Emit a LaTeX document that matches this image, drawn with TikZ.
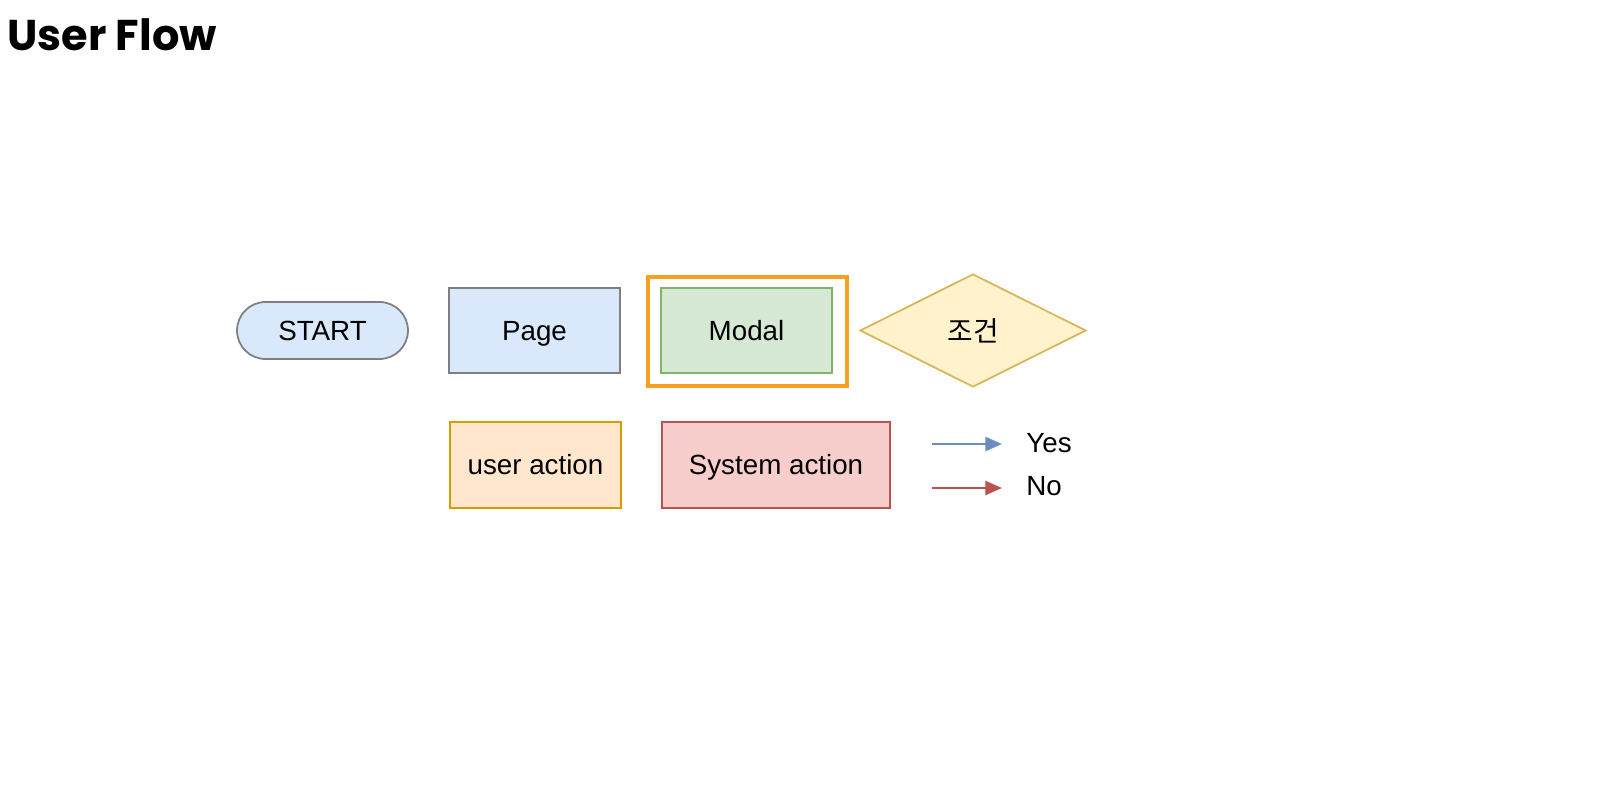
\documentclass[tikz,border=0pt]{standalone}
\usepackage{fontspec}
\setmainfont{Liberation Sans}
\newfontfamily\titlefont{Poppins}
\newfontfamily\cjk{Noto Sans CJK KR}
\usepackage{tikz}
\usetikzlibrary{shapes.geometric,shapes.misc,arrows.meta}

\definecolor{pageblue}{HTML}{DAE8FC}
\definecolor{modalgreen}{HTML}{D5E8D4}
\definecolor{modalline}{HTML}{82B366}
\definecolor{condfill}{HTML}{FFF2CC}
\definecolor{condline}{HTML}{D6B656}
\definecolor{userfill}{HTML}{FFE6CC}
\definecolor{userline}{HTML}{D79B00}
\definecolor{sysfill}{HTML}{F8CECC}
\definecolor{sysline}{HTML}{B85450}
\definecolor{yesline}{HTML}{6C8EBF}
\definecolor{frameorange}{HTML}{F5A020}
\definecolor{boxgray}{HTML}{7F7F7F}

\begin{document}
\begin{tikzpicture}[x=0.02cm,y=-0.02cm,
    box/.style={draw,line width=1pt,inner sep=0pt,text height=11.3pt,text depth=0pt,
      font=\fontsize{15.8}{18}\selectfont},
    legendtext/.style={anchor=west,inner sep=0pt,text height=11.3pt,text depth=0pt,
      font=\fontsize{15.8}{18}\selectfont},
    legend/.style={-{Triangle[length=9.5pt,width=8pt]},line width=1.3pt},
  ]
        \useasboundingbox (0,0) rectangle (1610,805);
        \node[anchor=west,inner sep=0pt,font=\titlefont\bfseries\fontsize{24.5}{30}\selectfont] (title) at (7,35) {User Flow};

        \node[box,rounded rectangle,fill=pageblue,draw=boxgray,minimum width=3.42cm,minimum height=1.14cm] (start) at (322.5,330.5) {START};
        \node[box,fill=pageblue,draw=boxgray,minimum width=3.42cm,minimum height=1.7cm] (page) at (534.5,330.5) {Page};
        \node[draw=frameorange,line width=2.8pt,minimum width=3.98cm,minimum height=2.18cm] (frame) at (747.5,331.5) {};
        \node[box,fill=modalgreen,draw=modalline,minimum width=3.42cm,minimum height=1.7cm] (modal) at (746.5,330.5) {Modal};
        \node[box,diamond,aspect=2,fill=condfill,draw=condline,minimum width=4.52cm,minimum height=2.26cm,text height=12.5pt] (cond) at (973,330.5) {\cjk 조건};

        \node[box,fill=userfill,draw=userline,minimum width=3.42cm,minimum height=1.72cm] (user) at (535.5,465) {user action};
        \node[box,fill=sysfill,draw=sysline,minimum width=4.56cm,minimum height=1.72cm] (sys) at (776,465) {System action};

        \coordinate (yesfrom) at (932,444);
        \node[legendtext] (yes) at (1026,443) {Yes};
        \coordinate (nofrom) at (932,488);
        \node[legendtext] (no) at (1026,486) {No};
        \draw[legend,draw=yesline,fill=yesline] (yesfrom) -- ++(70,0);
        \draw[legend,draw=sysline,fill=sysline] (nofrom) -- ++(70,0);
      \end{tikzpicture}
\end{document}
